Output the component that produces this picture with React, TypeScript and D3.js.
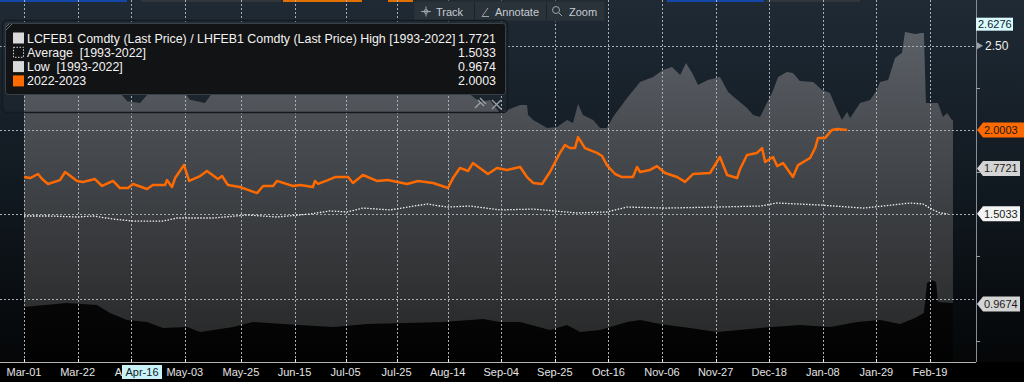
import React from "react";
import * as d3 from "d3";

const W = 1024;
const H = 382;
const DAY = 86400000;
const parse = d3.timeParse("%Y-%m-%d");
const START = parse("2022-03-01") as Date;

// x tick dates and labels
const tickDates = ["2022-03-01","2022-03-22","2022-04-12","2022-05-03","2022-05-25","2022-06-15","2022-07-05","2022-07-25","2022-08-14","2022-09-04","2022-09-25","2022-10-16","2022-11-06","2022-11-27","2022-12-18","2023-01-08","2023-01-29","2023-02-19"];
const tickLabels = ["Mar-01","Mar-22","Apr-12","May-03","May-25","Jun-15","Jul-05","Jul-25","Aug-14","Sep-04","Sep-25","Oct-16","Nov-06","Nov-27","Dec-18","Jan-08","Jan-29","Feb-19"];
const yGrid = [1.0, 1.5, 2.0, 2.5];
const yMinor = [0.75, 1.25, 1.75, 2.25];

// series: [days since Mar-01, value]
const highSeries: [number, number][] = [
  [0,2.27],[8.2,2.30],[21.9,2.31],[33.7,2.29],[40.4,2.17],[45.5,2.16],[51.3,2.26],[59.2,2.30],[65,2.18],[70.9,2.16],
  [76.8,2.28],[92.5,2.33],[108.2,2.35],[123.8,2.32],[140.7,2.27],[151.3,2.25],[159.1,2.29],[174.8,2.21],[178.7,2.166],[182.6,2.178],
  [186.5,2.101],[194.4,2.148],[197.1,2.148],[197.5,2.089],[199.5,2.059],[205,2.012],[208.9,2.018],[212.8,2.059],[215.1,2.042],[217.1,2.154],
  [219,2.089],[223,2.059],[225.7,2.012],[228.4,2.012],[230.8,2.077],[236.3,2.19],[241.4,2.285],[246.5,2.314],[250.4,2.356],[253.9,2.374],
  [257.1,2.326],[259.4,2.397],[261.8,2.338],[264.1,2.267],[268,2.297],[272.7,2.314],[275.9,2.225],[278.6,2.19],[283.3,2.13],[285.7,2.089],
  [288.4,2.077],[291.1,2.16],[293.1,2.219],[295.5,2.314],[298.9,2.344],[301.3,2.338],[304,2.291],[309.2,2.285],[312.7,2.237],[315.8,2.219],
  [318.6,2.119],[320.5,2.059],[322.5,2.107],[323.7,2.071],[327.6,2.16],[331.5,2.178],[334.2,2.237],[335.4,2.285],[338.6,2.297],[341.3,2.427],
  [344,2.457],[345.2,2.581],[349.1,2.569],[351.8,2.575],[352.6,2.575],[353.4,2.16],[358.1,2.16],[360.1,2.077],[361.7,2.101],[363.6,2.059],[364,2.059]
];
const lowSeries: [number, number][] = [
  [0,0.95],[8.2,0.962],[16.8,0.974],[28.6,0.962],[33.7,0.915],[40.4,0.873],[48.2,0.861],[54.5,0.826],[63.9,0.832],[69,0.802],
  [81.9,0.832],[89.7,0.861],[101.5,0.849],[121.1,0.832],[134.4,0.849],[164.2,0.861],[179.9,0.879],[186.5,0.861],[194.4,0.861],[206.1,0.814],
  [212.8,0.843],[217.9,0.802],[225.7,0.814],[236.3,0.861],[241.4,0.873],[249.2,0.849],[261,0.826],[271.6,0.802],[288.4,0.826],[304,0.843],
  [315.8,0.832],[326.4,0.861],[335.4,0.873],[343.3,0.849],[349.1,0.885],[352.6,0.915],[353.8,1.093],[355.8,1.11],[357.4,1.098],[358.1,0.98],[364,0.974]
];
const avgSeries: [number, number][] = [
  [0,1.49],[10.2,1.49],[20.8,1.484],[27,1.49],[34.9,1.472],[42.7,1.46],[54.5,1.46],[60,1.478],[74.1,1.478],[87.4,1.496],
  [99.1,1.484],[112.1,1.502],[119.9,1.52],[126.6,1.514],[132.8,1.537],[143.4,1.526],[157.9,1.561],[165.8,1.543],[174.8,1.549],[186.5,1.526],
  [199.5,1.531],[216.7,1.508],[228.4,1.514],[236.3,1.543],[251.6,1.537],[271.6,1.543],[288.4,1.549],[295.1,1.567],[311.9,1.555],[328.8,1.537],
  [336.6,1.549],[347.2,1.567],[352.3,1.561],[356.2,1.526],[358.9,1.508],[362,1.5033]
];
const curSeries: [number, number][] = [
  [0,1.721],[2.4,1.715],[5.5,1.739],[7.1,1.709],[9.4,1.68],[14.1,1.703],[16.1,1.751],[20.8,1.698],[23.1,1.692],[27.8,1.709],
  [30.6,1.668],[34.9,1.698],[37.6,1.656],[40.8,1.656],[42.7,1.68],[48.2,1.65],[50.5,1.674],[55.3,1.674],[56,1.703],[58,1.662],
  [59.2,1.715],[62.7,1.792],[64.7,1.698],[69,1.727],[71.7,1.757],[76,1.709],[77.6,1.727],[79.9,1.674],[84.6,1.662],[91.3,1.626],
  [93.7,1.668],[97.6,1.668],[99.1,1.698],[105.4,1.668],[108.2,1.674],[113.2,1.662],[114,1.698],[115.2,1.68],[119.1,1.703],[121.9,1.721],
  [127,1.721],[128.9,1.686],[132.8,1.733],[138.3,1.698],[142.6,1.703],[150.1,1.68],[154.4,1.698],[160.3,1.686],[166.1,1.656],[168.1,1.715],
  [170.8,1.775],[174,1.757],[175.9,1.804],[181.8,1.739],[185.3,1.775],[189.3,1.763],[194.4,1.781],[197.1,1.721],[199.5,1.686],[203,1.68],
  [206.1,1.751],[210,1.864],[212,1.911],[213.9,1.893],[215.9,1.893],[217.1,1.958],[219.8,1.893],[224.5,1.864],[226.5,1.846],[228.4,1.792],
  [231.6,1.739],[234.3,1.721],[238.6,1.721],[240.2,1.781],[241.4,1.751],[245.3,1.763],[248,1.786],[251.2,1.745],[255.9,1.721],[259,1.692],
  [262.1,1.739],[268.8,1.745],[272.7,1.84],[275.5,1.733],[279.4,1.715],[280.6,1.769],[283.3,1.852],[287.2,1.864],[289.2,1.893],[290.4,1.81],
  [293.5,1.84],[295.1,1.786],[297.4,1.804],[301.3,1.721],[303.3,1.792],[308,1.834],[310,1.893],[311.1,1.953],[313.9,1.953],[316.6,2.0],
  [318.6,2.006],[322.5,2.0003]
];

// legend
const legendNames = [
  "LCFEB1 Comdty (Last Price) / LHFEB1 Comdty (Last Price) High [1993-2022]",
  "Average  [1993-2022]",
  "Low  [1993-2022]",
  "2022-2023",
];
const legendValues = ["1.7721", "1.5033", "0.9674", "2.0003"];
const lastValues = [1.7721, 1.5033, 0.9674, 2.0003];
const cursorValue = 2.6276;
const cursorDateLabel = "Apr-16";
const toolbarItems = ["Track", "Annotate", "Zoom"];

const FONT = "'Liberation Sans', Arial, sans-serif";

export default function App() {
  const x = d3.scaleTime().domain([parse("2022-03-01") as Date, parse("2023-02-19") as Date]).range([24, 930]);
  const y = d3.scaleLinear().domain([0.624, 2.6406]).range([362, 22]);
  const X = (d: number) => x(new Date(START.getTime() + d * DAY));
  const bottom = 362;
  const axisX = 976;

  const area = d3.area<[number, number]>().x(d => X(d[0])).y0(bottom).y1(d => y(d[1]));
  const line = d3.line<[number, number]>().x(d => X(d[0])).y(d => y(d[1]));

  const tagPath = (cy: number, right: number) =>
    `M${axisX + 1},${cy} L${axisX + 7},${cy - 7.5} L${right},${cy - 7.5} L${right},${cy + 7.5} L${axisX + 7},${cy + 7.5} Z`;

  const tagColors = ["#d4d4d4", "#f4f4f4", "#d4d4d4", "#ff6a00"];
  const tagRight = [1020, 1020, 1020, 1024];

  const tx = tickDates.map(s => x(parse(s) as Date));

  return (
    <svg width={W} height={H} style={{ position: "fixed", left: 0, top: 0, display: "block" }} fontFamily={FONT}>
      <defs>
        <linearGradient id="bg" gradientUnits="userSpaceOnUse" x1="0" y1="0" x2="0" y2={H}>
          <stop offset="0" stopColor="#1f2a35" />
          <stop offset="0.5" stopColor="#111920" />
          <stop offset="1" stopColor="#030405" />
        </linearGradient>
        <linearGradient id="band" gradientUnits="userSpaceOnUse" x1="0" y1="22" x2="0" y2={bottom}>
          <stop offset="0" stopColor="#5d6269" />
          <stop offset="0.5" stopColor="#3e4145" />
          <stop offset="1" stopColor="#262626" />
        </linearGradient>
        <linearGradient id="low" gradientUnits="userSpaceOnUse" x1="0" y1="280" x2="0" y2={bottom}>
          <stop offset="0" stopColor="#080808" />
          <stop offset="1" stopColor="#020202" />
        </linearGradient>
        <clipPath id="tickClip">
          <rect x={0} y={364} width={122} height={18} />
          <rect x={162} y={364} width={862} height={18} />
        </clipPath>
      </defs>
      <rect x={0} y={0} width={W} height={H} fill="url(#bg)" />
      <rect x={0} y={bottom} width={W} height={H - bottom} fill="#000" />

      {/* top tab strips */}
      <rect x={0} y={0} width={127} height={2} fill="#1448a8" />
      <rect x={141} y={0} width={140} height={2} fill="#30363c" />
      <rect x={283} y={0} width={79} height={2} fill="#e07000" />
      <rect x={388} y={0} width={25} height={2} fill="#e07000" />
      <rect x={667} y={0} width={97} height={2} fill="#1448a8" />
      <rect x={766} y={0} width={94} height={2} fill="#30363c" />

      {/* band */}
      <path d={area(highSeries) || ""} fill="url(#band)" />
      <path d={area(lowSeries) || ""} fill="url(#low)" />

      {/* grid */}
      {yGrid.map(v => (
        <line key={"hg" + v} x1={0} x2={axisX} y1={Math.round(y(v)) + 0.5} y2={Math.round(y(v)) + 0.5}
          stroke="#a8aeb5" strokeWidth={1} strokeDasharray="2,2" />
      ))}
      {tx.map((px, i) => (
        <line key={"vg" + i} x1={Math.round(px) + 0.5} x2={Math.round(px) + 0.5} y1={0} y2={bottom}
          stroke="#a8aeb5" strokeWidth={1} strokeDasharray="2,2" />
      ))}

      {/* average */}
      <path d={line(avgSeries) || ""} fill="none" stroke="#f2f2f2" strokeWidth={1.3} strokeDasharray="1.5,1.5" />
      {/* current season */}
      <path d={line(curSeries) || ""} fill="none" stroke="#ff6a00" strokeWidth={2.5} strokeLinejoin="round" />

      {/* axes */}
      <line x1={axisX + 0.5} x2={axisX + 0.5} y1={0} y2={bottom} stroke="#868d95" strokeWidth={1} />
      <line x1={0} x2={axisX} y1={bottom + 0.5} y2={bottom + 0.5} stroke="#b4b4b4" strokeWidth={1} />
      {tx.map((px, i) => (
        <line key={"xt" + i} x1={Math.round(px) + 0.5} x2={Math.round(px) + 0.5} y1={bottom - 3} y2={bottom}
          stroke="#f0f0f0" strokeWidth={1} />
      ))}
      <g clipPath="url(#tickClip)">
        {tickLabels.map((t, i) => (
          <text key={"xl" + i} x={tx[i]} y={376} fontSize={11} fill="#e4e4e4" textAnchor="middle">{t}</text>
        ))}
      </g>
      {/* cursor date */}
      <rect x={122} y={365} width={40} height={14} fill="#c8f2f7" />
      <text x={142} y={376} fontSize={11} fill="#0e1a26" textAnchor="middle">{cursorDateLabel}</text>

      {/* right axis */}
      {yMinor.map(v => (
        <line key={"ym" + v} x1={axisX} x2={axisX + 4} y1={Math.round(y(v)) + 0.5} y2={Math.round(y(v)) + 0.5} stroke="#9aa0a6" />
      ))}
      <path d={`M${axisX + 1},${y(2.5) - 3.5} L${axisX + 7},${y(2.5)} L${axisX + 1},${y(2.5) + 3.5} Z`} fill="#9aa0a6" />
      <text x={985} y={y(2.5) + 4.5} fontSize={12} fill="#eeeeee">2.50</text>

      {lastValues.map((v, i) => (
        <g key={"tag" + i}>
          <path d={tagPath(y(v), tagRight[i])} fill={tagColors[i]} />
          <text x={984} y={y(v) + 4} fontSize={11} fill="#1a1a1a">{legendValues[i]}</text>
        </g>
      ))}
      <rect x={axisX} y={y(cursorValue) - 6.5} width={37} height={13} fill="#d9fbff" />
      <text x={978} y={y(cursorValue) + 4} fontSize={11} fill="#0e1a2a">{cursorValue.toFixed(4)}</text>

      {/* toolbar */}
      <rect x={414} y={1} width={191} height={20} fill="#2a323a" stroke="#222a31" />
      <line x1={474.5} x2={474.5} y1={2} y2={20} stroke="#1c2228" />
      <line x1={546.5} x2={546.5} y1={2} y2={20} stroke="#1c2228" />
      <g stroke="#9aa2aa" strokeWidth={1} fill="none">
        <line x1={421} x2={431} y1={11.5} y2={11.5} />
        <line x1={426} x2={426} y1={6.5} y2={16.5} />
        <circle cx={426} cy={11.5} r={2} />
        <path d="M482,16.5 L489,16.5 M482,16.5 L488,8" />
        <circle cx={556} cy={10} r={3.5} />
        <line x1={558.5} x2={562} y1={12.5} y2={16} />
      </g>
      <text x={436} y={15.5} fontSize={11} fill="#c6ccd2">{toolbarItems[0]}</text>
      <text x={495} y={15.5} fontSize={11} fill="#c6ccd2">{toolbarItems[1]}</text>
      <text x={569} y={15.5} fontSize={11} fill="#c6ccd2">{toolbarItems[2]}</text>

      {/* legend panel */}
      <rect x={2.5} y={20.5} width={505} height={92} rx={4} fill="rgba(255,255,255,0.02)" stroke="#141a1f" strokeWidth={1.5} />
      <rect x={5.5} y={23.5} width={500} height={71} rx={3} fill="#121314" stroke="#3a4047" />
      <g stroke="#6a7077" strokeWidth={1}>
        <line x1={6} y1={30} x2={12} y2={24} />
        <line x1={6} y1={27} x2={9} y2={24} />
      </g>
      {legendNames.map((name, i) => {
        const cy = 38 + i * 14.3;
        return (
          <g key={"lg" + i}>
            {i === 1 ? (
              <rect x={13.5} y={cy - 5} width={10} height={10} fill="none" stroke="#d8d8d8" strokeDasharray="1.5,1.5" />
            ) : (
              <rect x={13} y={cy - 5.5} width={11} height={11} fill={i === 3 ? "#ff6a00" : "#d9d9d9"} />
            )}
            <text x={27} y={cy + 4.5} fontSize={12.4} fill="#f2f2f2" style={{ whiteSpace: "pre" }}>{name}</text>
            <text x={496} y={cy + 4.5} fontSize={12.4} fill="#f2f2f2" textAnchor="end">{legendValues[i]}</text>
          </g>
        );
      })}
      {/* pin & close icons */}
      <g stroke="#9aa0a6" strokeWidth={1.4} fill="none">
        <path d="M475,108 L480,103 M478,100 L484,106 M480,98 L486,104" />
        <path d="M492,100 L501,109 M501,100 L492,109" />
      </g>
    </svg>
  );
}
